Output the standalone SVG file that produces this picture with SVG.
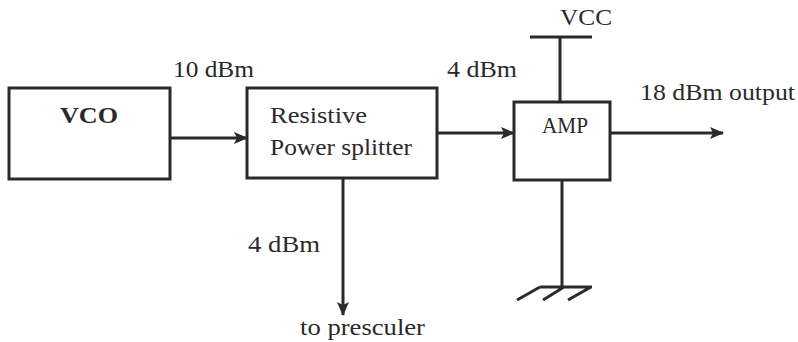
<svg xmlns="http://www.w3.org/2000/svg" width="798" height="342" viewBox="0 0 798 342">
<defs>
<style>
.box{fill:#fff;stroke:#2a2a2a;stroke-width:3}
.ln{fill:none;stroke:#2a2a2a;stroke-width:3}
.t{font-family:"Liberation Serif","Times New Roman",serif;fill:#2a2a2a;font-size:23px}
</style>
<marker id="ah" markerWidth="14" markerHeight="12" refX="13" refY="6" orient="auto" markerUnits="userSpaceOnUse">
<path d="M0,0 L14,6 L0,12 L3,6 Z" fill="#2a2a2a"/>
</marker>
</defs>
<rect width="798" height="342" fill="#fff"/>
<g id="vco">
<rect class="box" x="9" y="88" width="161" height="91"/>
<text class="t" x="60" y="123" font-size="24" font-weight="bold" textLength="58" lengthAdjust="spacingAndGlyphs">VCO</text>
</g>
<g id="splitter">
<rect class="box" x="247" y="88" width="190" height="90"/>
<text class="t" x="270" y="123" textLength="97" lengthAdjust="spacingAndGlyphs">Resistive</text>
<text class="t" x="270" y="155" textLength="142" lengthAdjust="spacingAndGlyphs">Power splitter</text>
</g>
<g id="amp">
<rect class="box" x="514" y="102" width="96" height="78"/>
<text class="t" x="542" y="133" font-size="18" textLength="46" lengthAdjust="spacingAndGlyphs">AMP</text>
</g>
<g id="vcc">
<path class="ln" d="M530,37 H592 M560,37 V102"/>
<text class="t" x="560" y="25" textLength="52" lengthAdjust="spacingAndGlyphs">VCC</text>
</g>
<g id="ground">
<path class="ln" d="M562,180 V287 M540,287 H592 M540,287 L517,300 M564,287 L543,300 M591,287 L568,300"/>
</g>
<g id="connectors">
<line class="ln" x1="170" y1="138" x2="247" y2="138" marker-end="url(#ah)"/>
<line class="ln" x1="437" y1="133" x2="514" y2="133" marker-end="url(#ah)"/>
<line class="ln" x1="610" y1="133" x2="723" y2="133" marker-end="url(#ah)"/>
<line class="ln" x1="343" y1="178" x2="343" y2="315" marker-end="url(#ah)"/>
</g>
<g id="labels">
<text class="t" x="173" y="77" textLength="81" lengthAdjust="spacingAndGlyphs">10 dBm</text>
<text class="t" x="447" y="77" textLength="70" lengthAdjust="spacingAndGlyphs">4 dBm</text>
<text class="t" x="640" y="100" textLength="155" lengthAdjust="spacingAndGlyphs">18 dBm output</text>
<text class="t" x="248" y="252" textLength="72" lengthAdjust="spacingAndGlyphs">4 dBm</text>
<text class="t" x="300" y="335" textLength="125" lengthAdjust="spacingAndGlyphs">to presculer</text>
</g>
</svg>
